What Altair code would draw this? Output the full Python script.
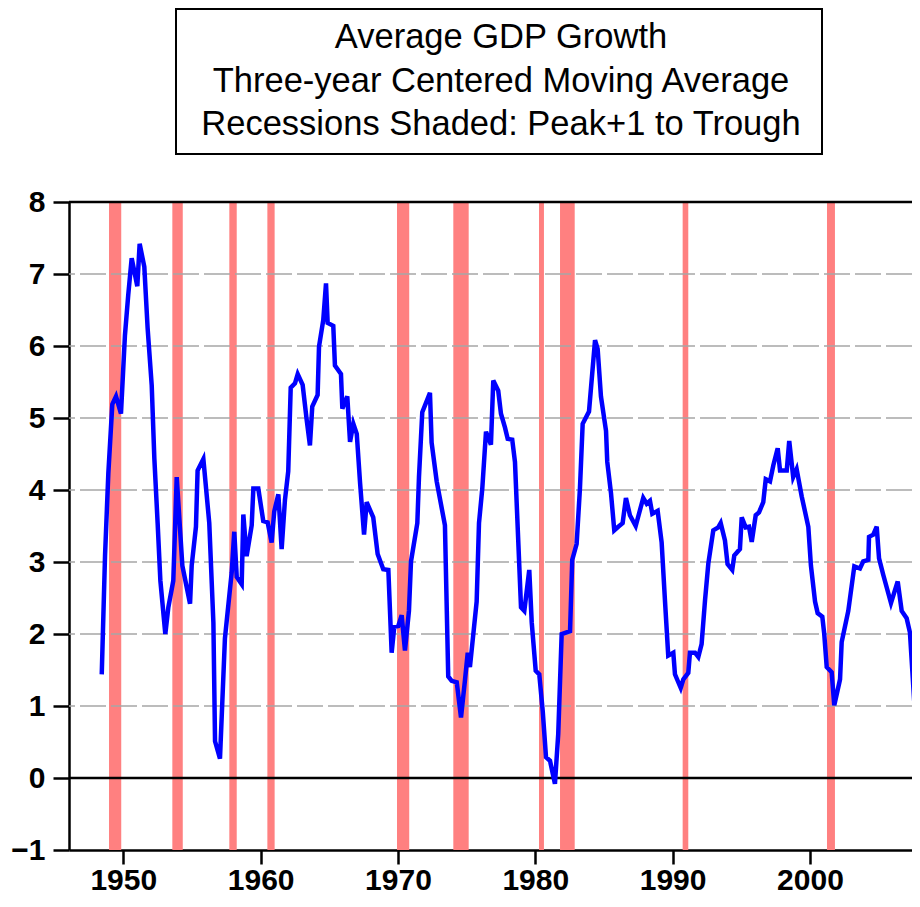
import altair as alt
import pandas as pd

# ---- data ----
years = [
    1948.43, 1948.67, 1948.91, 1949.20, 1949.47, 1949.83, 1950.12, 1950.36, 1950.61, 1951.02,
    1951.19, 1951.53, 1951.77, 1952.07, 1952.26, 1952.50, 1952.70, 1953.06, 1953.28, 1953.64,
    1953.89, 1954.30, 1954.86, 1954.98, 1955.29, 1955.41, 1955.83, 1956.26, 1956.56, 1956.68,
    1957.04, 1957.40, 1957.89, 1958.08, 1958.26, 1958.62, 1958.74, 1958.98, 1959.35, 1959.47,
    1959.83, 1960.19, 1960.51, 1960.80, 1960.99, 1961.29, 1961.53, 1961.77, 1962.01, 1962.19,
    1962.50, 1962.70, 1963.06, 1963.35, 1963.59, 1963.76, 1964.15, 1964.25, 1964.56, 1964.76,
    1964.88, 1965.29, 1965.41, 1965.85, 1965.95, 1966.31, 1966.51, 1966.75, 1967.00, 1967.24,
    1967.53, 1967.72, 1968.20, 1968.52, 1968.93, 1969.30, 1969.54, 1969.73, 1970.02, 1970.27,
    1970.51, 1970.80, 1970.95, 1971.41, 1971.53, 1971.77, 1972.33, 1972.45, 1972.82, 1973.42,
    1973.66, 1973.91, 1974.28, 1974.59, 1974.88, 1975.08, 1975.24, 1975.73, 1975.90, 1976.14,
    1976.41, 1976.77, 1976.94, 1977.30, 1977.50, 1977.79, 1977.99, 1978.32, 1978.52, 1978.96,
    1979.20, 1979.56, 1979.74, 1980.03, 1980.29, 1980.54, 1980.78, 1981.07, 1981.43, 1981.67,
    1981.92, 1982.53, 1982.69, 1983.01, 1983.25, 1983.45, 1983.91, 1984.35, 1984.54, 1984.78,
    1985.15, 1985.24, 1985.51, 1985.75, 1986.04, 1986.36, 1986.60, 1986.89, 1987.31, 1987.86,
    1988.11, 1988.35, 1988.52, 1988.91, 1989.20, 1989.44, 1989.68, 1990.05, 1990.17, 1990.59,
    1990.78, 1991.14, 1991.26, 1991.63, 1991.87, 1992.11, 1992.36, 1992.60, 1992.96, 1993.32,
    1993.50, 1993.81, 1994.00, 1994.34, 1994.49, 1994.90, 1995.03, 1995.32, 1995.56, 1995.76,
    1996.05, 1996.29, 1996.60, 1996.78, 1997.09, 1997.33, 1997.65, 1997.82, 1998.31, 1998.49,
    1998.78, 1999.03, 1999.40, 1999.88, 2000.07, 2000.37, 2000.56, 2000.90, 2001.04, 2001.22,
    2001.58, 2001.77, 2002.19, 2002.31, 2002.79, 2003.23, 2003.64, 2003.88, 2004.25, 2004.30,
    2004.61, 2004.86, 2005.03, 2005.34, 2005.90, 2006.39, 2006.68, 2007.04, 2007.28, 2007.60,
]
growth = [
    1.44, 3.09, 4.23, 5.19, 5.30, 5.06, 6.15, 6.71, 7.22, 6.83,
    7.42, 7.10, 6.25, 5.45, 4.44, 3.54, 2.74, 2.00, 2.37, 2.74,
    4.18, 2.95, 2.42, 2.95, 3.49, 4.27, 4.43, 3.54, 2.16, 0.51,
    0.27, 1.94, 2.85, 3.42, 2.79, 2.69, 3.66, 3.08, 3.51, 4.02,
    4.02, 3.57, 3.55, 3.27, 3.70, 3.94, 3.18, 3.86, 4.26, 5.42,
    5.48, 5.61, 5.46, 4.98, 4.62, 5.16, 5.32, 5.99, 6.36, 6.87,
    6.32, 6.28, 5.73, 5.61, 5.13, 5.30, 4.67, 4.92, 4.78, 4.10,
    3.38, 3.83, 3.62, 3.11, 2.90, 2.89, 1.74, 2.10, 2.11, 2.26,
    1.77, 2.32, 3.01, 3.54, 4.18, 5.08, 5.35, 4.66, 4.12, 3.51,
    1.41, 1.35, 1.33, 0.84, 1.36, 1.74, 1.54, 2.45, 3.54, 4.02,
    4.81, 4.63, 5.52, 5.38, 5.06, 4.87, 4.71, 4.70, 4.39, 2.37,
    2.32, 2.89, 2.16, 1.49, 1.44, 0.93, 0.29, 0.24, -0.08, 0.61,
    2.00, 2.04, 3.03, 3.25, 4.02, 4.92, 5.09, 6.08, 5.96, 5.30,
    4.82, 4.39, 3.96, 3.44, 3.49, 3.54, 3.89, 3.65, 3.50, 3.89,
    3.81, 3.85, 3.67, 3.71, 3.27, 2.47, 1.70, 1.74, 1.44, 1.25,
    1.37, 1.46, 1.74, 1.74, 1.68, 1.86, 2.47, 2.98, 3.44, 3.48,
    3.54, 3.30, 2.97, 2.89, 3.09, 3.18, 3.62, 3.48, 3.49, 3.28,
    3.65, 3.69, 3.83, 4.15, 4.12, 4.34, 4.58, 4.27, 4.27, 4.68,
    4.18, 4.29, 3.91, 3.49, 2.95, 2.45, 2.29, 2.24, 2.00, 1.54,
    1.47, 1.01, 1.37, 1.89, 2.32, 2.94, 2.91, 3.01, 3.03, 3.35,
    3.38, 3.49, 3.05, 2.82, 2.43, 2.73, 2.32, 2.22, 2.02, 1.04,
]
rec_start = [1948.96, 1953.57, 1957.72, 1960.49, 1969.93, 1974.03, 1980.27, 1981.80, 1990.73, 2001.24]
rec_end = [1949.85, 1954.33, 1958.26, 1961.02, 1970.82, 1975.15, 1980.63, 1982.87, 1991.14, 2001.82]
y_ticks = [-1, 0, 1, 2, 3, 4, 5, 6, 7, 8]
x_ticks = [1950, 1960, 1970, 1980, 1990, 2000]
grid_vals = [1, 2, 3, 4, 5, 6, 7]
title_lines = [
    "Average GDP Growth",
    "Three-year Centered Moving Average",
    "Recessions Shaded: Peak+1 to Trough",
]

# ---- build tables ----
line_df = pd.DataFrame({"year": years, "growth": growth})
rec_df = pd.DataFrame({"start": rec_start, "end": rec_end})
grid_df = pd.DataFrame({"g": grid_vals})
one = pd.DataFrame({"a": [0]})

W, H = 843, 648
FONT = "Liberation Sans"
xs = alt.Scale(domain=[1946.046, 2007.43], nice=False, zero=False)
ys = alt.Scale(domain=[-1, 8], nice=False, zero=False)

x_axis = alt.Axis(
    values=x_ticks, format="d", title=None, grid=False,
    labelFont=FONT, labelFontWeight="bold", labelFontSize=30, labelColor="black",
    labelPadding=1, tickColor="black", tickWidth=2.5, tickSize=14,
    domainColor="black", domainWidth=2.5, labelFlush=False, labelOverlap=False,
)
y_axis = alt.Axis(
    values=y_ticks, format="d", title=None, grid=False,
    labelFont=FONT, labelFontWeight="bold", labelFontSize=30, labelColor="black",
    labelPadding=8, tickColor="black", tickWidth=2.5, tickSize=16,
    domainColor="black", domainWidth=2.5, labelFlush=False, labelOverlap=False,
)

bars = alt.Chart(rec_df).mark_rect(color="#FF8080", opacity=1).encode(
    x=alt.X("start:Q", scale=xs, axis=x_axis),
    x2="end:Q",
    y=alt.value(0),
    y2=alt.value(H),
)

grid = alt.Chart(grid_df).mark_rule(color="#A6A6A6", strokeWidth=1.5, strokeDash=[26, 5]).encode(
    y=alt.Y("g:Q", scale=ys, axis=y_axis),
)

zero = alt.Chart(one).mark_rule(color="black", strokeWidth=2.5).encode(
    y=alt.Y(datum=0, scale=ys, axis=y_axis),
)

top_border = alt.Chart(one).mark_rule(color="black", strokeWidth=2.5).encode(
    x=alt.value(0), x2=alt.value(W), y=alt.value(0),
)

line = alt.Chart(line_df).mark_line(color="#0000FF", strokeWidth=4.5).encode(
    x=alt.X("year:Q", scale=xs, axis=x_axis),
    y=alt.Y("growth:Q", scale=ys, axis=y_axis),
)

title_box = alt.Chart(one).mark_rect(fill="white", stroke="black", strokeWidth=2).encode(
    x=alt.value(107), x2=alt.value(753), y=alt.value(-193), y2=alt.value(-48),
)

title_text = alt.Chart(one).mark_text(
    font=FONT, fontSize=34.5, align="center", baseline="alphabetic",
    lineHeight=43.5, color="black",
).encode(
    x=alt.value(432), y=alt.value(-154), text=alt.value(title_lines),
)

chart = alt.layer(bars, grid, zero, line, top_border, title_box, title_text).properties(
    width=W, height=H,
    autosize=alt.AutoSizeParams(type="none"),
    padding={"left": 61, "top": 194, "right": 0, "bottom": 49},
    background="white",
).configure_view(stroke="transparent")

chart.save("out.html", embed_options={"renderer": "svg", "actions": False})
